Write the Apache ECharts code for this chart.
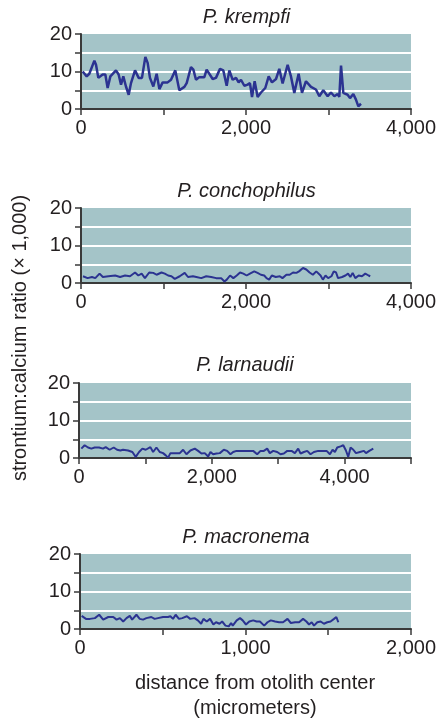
<!DOCTYPE html>
<html>
<head>
<meta charset="utf-8">
<script src="https://cdn.jsdelivr.net/npm/echarts@6/dist/echarts.min.js"></script>
<style>
html,body{margin:0;padding:0;background:#fff;}
#chart{width:439px;height:721px;}
</style>
</head>
<body>
<div id="chart"></div>
<script>
// ---- Data (distance in micrometers, Sr:Ca ratio x1000) ----
var panelTitles = ['P. krempfi', 'P. conchophilus', 'P. larnaudii', 'P. macronema'];
var yTickLabels = [0, 10, 20];
var xMaxes = [4000, 4000, 5000, 2000];
var xIntervals = [1000, 1000, 1000, 500];

var krempfiX = [20,69,101,162,182,210,234,263,295,323,356,424,456,485,513,545,578,606,655,699,739,780,808,836,877,917,950,990,1050,1091,1143,1192,1253,1281,1333,1362,1394,1434,1495,1523,1596,1636,1685,1725,1766,1798,1838,1879,1911,1939,1980,2020,2048,2073,2105,2141,2182,2234,2275,2315,2364,2404,2444,2505,2545,2586,2638,2679,2727,2788,2848,2889,2937,2990,3030,3071,3111,3131,3152,3180,3232,3261,3301,3333,3362,3394];
var krempfiY = [10.0,8.7,9.4,12.9,11.8,8.3,7.8,9.2,9.2,5.6,8.7,10.3,9.2,6.5,8.7,6.0,3.8,6.9,10.3,8.3,8.3,13.9,12.3,8.3,6.0,9.4,5.3,7.1,7.1,7.8,10.3,5.0,5.9,6.9,11.2,10.5,7.8,8.5,8.5,10.5,8.0,8.3,10.7,10.3,6.2,10.3,7.8,8.3,7.1,7.8,6.2,6.5,6.9,3.2,7.4,3.2,4.4,5.6,8.7,7.1,8.0,10.7,6.8,11.8,8.7,4.3,9.4,4.3,7.4,5.9,5.2,3.4,5.0,3.4,4.4,3.4,4.0,3.2,11.6,4.3,3.8,2.9,4.0,2.5,0.7,1.4];

var conchophilusX = [24,80,133,173,225,265,333,414,474,534,594,655,695,735,775,827,876,916,976,1016,1056,1096,1137,1197,1257,1297,1357,1398,1458,1518,1578,1639,1699,1739,1767,1807,1847,1888,1928,1968,2008,2048,2100,2140,2181,2221,2249,2281,2313,2361,2410,2442,2490,2530,2570,2611,2643,2691,2731,2771,2811,2852,2876,2904,2932,2964,2996,3036,3064,3092,3116,3165,3205,3237,3265,3293,3325,3366,3406,3446,3486,3506];
var conchophilusY = [1.8,1.3,1.6,1.3,2.5,1.6,1.8,2.0,1.6,2.0,1.8,2.8,2.0,2.5,1.3,2.8,2.7,2.2,2.8,2.5,2.0,1.8,1.1,1.8,2.7,1.6,1.8,1.6,1.3,1.8,1.6,1.3,1.3,0.4,0.9,2.0,1.3,2.0,2.8,2.5,2.0,2.5,3.1,2.7,2.2,2.0,1.3,0.9,2.0,1.6,1.8,1.3,2.2,2.2,2.8,2.7,3.1,4.0,3.6,2.8,2.2,3.1,2.7,2.0,0.9,2.0,1.3,1.8,3.1,2.8,1.3,1.6,2.0,2.5,1.6,2.7,1.3,2.0,1.8,2.5,2.0,1.8];

var larnaudiiX = [35,85,136,186,236,302,362,402,462,523,573,623,663,739,804,854,905,955,1005,1075,1116,1166,1216,1266,1307,1342,1377,1442,1518,1568,1618,1678,1744,1794,1844,1894,1945,1980,2020,2070,2121,2181,2231,2281,2322,2372,2447,2523,2623,2683,2734,2784,2834,2874,2925,2985,3035,3085,3136,3201,3251,3301,3337,3387,3437,3487,3538,3603,3668,3729,3779,3819,3854,3889,3940,3980,4020,4055,4090,4131,4171,4231,4291,4322,4372,4432];
var larnaudiiY = [2.5,3.4,2.8,2.5,2.8,2.8,2.5,2.9,2.2,2.8,2.2,2.0,2.2,2.0,1.6,0.3,1.6,2.5,2.2,2.9,1.6,2.8,1.6,1.3,0.7,0.1,1.3,1.3,1.3,2.2,1.0,2.0,2.5,1.9,1.2,1.3,0.4,1.6,1.0,1.2,1.3,2.2,1.9,1.0,1.6,1.9,1.9,1.9,1.9,1.0,1.9,1.9,2.5,1.3,1.9,1.6,1.0,1.2,1.9,1.9,1.3,2.5,1.2,1.6,1.9,1.0,1.6,1.9,1.9,1.9,1.0,2.2,1.6,2.8,3.1,3.4,2.0,0.3,2.8,2.2,1.3,1.6,1.9,1.3,1.9,2.5];

var macronemaX = [10,36,60,90,116,140,171,201,221,241,261,281,301,315,341,361,381,401,431,451,471,502,532,546,562,578,598,618,646,666,692,712,732,746,766,786,806,822,843,859,879,899,913,923,947,967,983,1003,1023,1047,1067,1087,1113,1133,1153,1179,1203,1227,1254,1274,1300,1324,1348,1368,1384,1400,1414,1434,1454,1474,1494,1514,1535,1549,1561];
var macronemaY = [3.5,2.7,2.7,2.9,3.8,2.5,3.2,3.2,2.5,2.9,2.0,2.9,3.5,2.5,3.8,2.7,2.5,2.9,3.2,2.7,2.9,3.2,3.2,3.4,2.7,3.8,2.7,2.9,3.4,2.7,2.9,2.3,1.4,2.7,2.0,2.7,1.2,1.8,1.4,2.0,0.9,0.7,1.6,0.9,2.3,2.9,2.3,1.2,2.0,2.3,2.0,2.0,0.9,1.8,2.3,2.0,1.8,1.8,2.7,1.6,1.8,1.8,2.7,2.0,1.2,1.8,0.9,1.8,2.0,1.4,1.8,2.0,2.7,3.2,1.8];

var seriesX = [krempfiX, conchophilusX, larnaudiiX, macronemaX];
var seriesY = [krempfiY, conchophilusY, larnaudiiY, macronemaY];

// ---- Layout ----
var gridTops = [34, 208, 383, 554];
var gridLefts = [81, 81, 79, 80];
var gridRights = [27, 27, 28, 27];
var titleTops = [7, 181, 355, 527];
var lineWidths = [2.5, 2, 2, 2];

var FONT = 'Liberation Sans, Arial, Helvetica, sans-serif';
var AXIS_COLOR = '#3a3a3a';
var TEXT_COLOR = '#231f20';

function fmt(v) {
  return v.toString().replace(/\B(?=(\d{3})+(?!\d))/g, ',');
}

var grids = [], xAxes = [], yAxes = [], series = [], titles = [];
for (var i = 0; i < 4; i++) {
  grids.push({
    left: gridLefts[i], right: gridRights[i], top: gridTops[i], height: 75,
    show: true, backgroundColor: '#a4c4c8', borderWidth: 0
  });
  (function (idx) {
    xAxes.push({
      gridIndex: idx, type: 'value', min: 0, max: xMaxes[idx], interval: xIntervals[idx],
      axisLine: { show: true, onZero: false, lineStyle: { color: AXIS_COLOR, width: 2 } },
      axisTick: { show: true, length: 6, inside: false, lineStyle: { color: AXIS_COLOR, width: 1.5 } },
      splitLine: { show: false },
      axisLabel: {
        show: true, margin: 9, fontSize: 20, color: TEXT_COLOR, fontFamily: FONT,
        formatter: function (v) { return (v % (2 * xIntervals[idx]) === 0) ? fmt(v) : ''; }
      }
    });
    yAxes.push({
      gridIndex: idx, type: 'value', min: 0, max: 20, interval: 5,
      axisLine: { show: true, lineStyle: { color: AXIS_COLOR, width: 2 } },
      axisTick: { show: true, length: 6, inside: false, lineStyle: { color: AXIS_COLOR, width: 1.5 } },
      splitLine: { show: true, lineStyle: { color: ['rgba(0,0,0,0)', '#ffffff', '#ffffff', '#ffffff', 'rgba(0,0,0,0)'], width: 2 } },
      axisLabel: {
        show: true, margin: 9, fontSize: 20, color: TEXT_COLOR, fontFamily: FONT,
        formatter: function (v) { return yTickLabels.indexOf(v) >= 0 ? String(v) : ''; }
      }
    });
  })(i);
  var pts = [];
  for (var k = 0; k < seriesX[i].length; k++) pts.push([seriesX[i][k], seriesY[i][k]]);
  series.push({
    type: 'line', xAxisIndex: i, yAxisIndex: i, data: pts, showSymbol: false,
    lineStyle: { color: '#2b3391', width: lineWidths[i] }, animation: false, silent: true
  });
  titles.push({
    text: panelTitles[i], left: (gridLefts[i] + (439 - gridRights[i])) / 2, top: titleTops[i], textAlign: 'center', padding: 0,
    textStyle: { fontSize: 20, fontStyle: 'italic', fontWeight: 'normal', color: TEXT_COLOR, fontFamily: FONT }
  });
}
titles.push({
  text: 'distance from otolith center\n(micrometers)', left: 255, top: 671, textAlign: 'center', padding: 0,
  textStyle: { fontSize: 20, fontWeight: 'normal', color: TEXT_COLOR, fontFamily: FONT, lineHeight: 25, align: 'center' }
});

var chart = echarts.init(document.getElementById('chart'), null, { renderer: 'canvas' });
chart.setOption({
  animation: false,
  title: titles,
  grid: grids,
  xAxis: xAxes,
  yAxis: yAxes,
  series: series,
  graphic: [{
    type: 'text',
    x: 20, y: 338,
    rotation: Math.PI / 2,
    style: { text: 'strontium:calcium ratio (\u00d7 1,000)', fill: TEXT_COLOR, font: '20px ' + FONT, textAlign: 'center', textVerticalAlign: 'middle' }
  }]
});
</script>
</body>
</html>
